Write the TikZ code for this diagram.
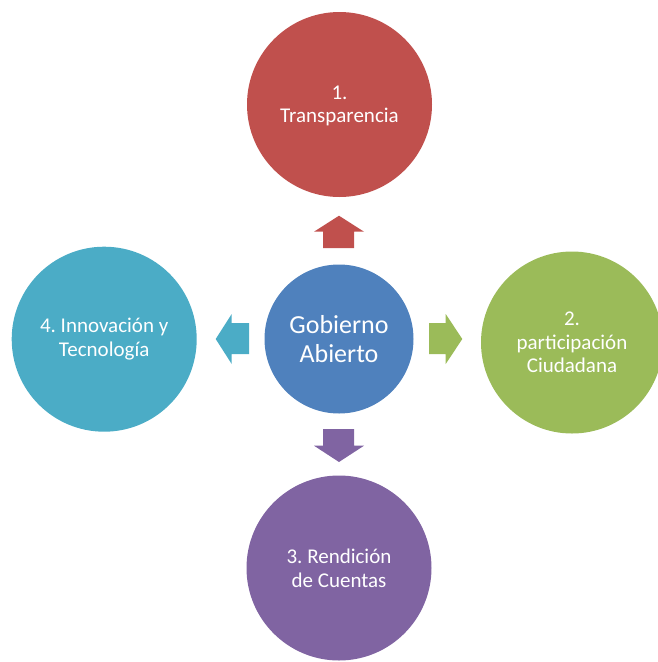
\documentclass[tikz,border=0pt]{standalone}
\usepackage{fontspec}
\setmainfont{Carlito}
\frenchspacing
\definecolor{cred}{HTML}{C0504D}
\definecolor{cgreen}{HTML}{9BBB59}
\definecolor{cpurple}{HTML}{8064A2}
\definecolor{cteal}{HTML}{4BACC6}
\definecolor{cblue}{HTML}{4F81BD}
\begin{document}
\begin{tikzpicture}[x=1pt,y=-1pt,
  outer/.style={circle,minimum size=185pt,inner sep=0pt,text=white,align=center,font=\frenchspacing\fontsize{21}{23.6}\selectfont},
  hub/.style={circle,minimum size=149pt,inner sep=0pt,text=white,align=center,font=\fontsize{26}{29}\selectfont,fill=cblue}]
\path[use as bounding box] (0,0) rectangle (657,662);
\node[hub] (c) at (339,339) {Gobierno\\Abierto};
\node[outer,fill=cred] (t) at (339.5,104.5) {\strut 1.\\Transparencia};
\node[outer,fill=cgreen,minimum size=182pt] (r) at (572,342.5) {2.\\participación\\Ciudadana};
\node[outer,fill=cpurple] (b) at (339,568) {3. Rendición\\de Cuentas};
\node[outer,fill=cteal] (l) at (104.2,339.2) {4. Innovación y\\Tecnología};
% arrows
\fill[cred] (339,215.7) -- (364,231.7) -- (354,231.7) -- (354,248) -- (323,248) -- (323,231.7) -- (314,231.7) -- cycle;
\fill[cpurple] (339,462) -- (364,445.7) -- (354,445.7) -- (354,429) -- (323,429) -- (323,445.7) -- (314,445.7) -- cycle;
\fill[cteal] (215.7,339) -- (231.7,314) -- (231.7,323) -- (249,323) -- (249,354) -- (231.7,354) -- (231.7,364) -- cycle;
\fill[cgreen] (462.3,339) -- (445.7,314) -- (445.7,323) -- (429,323) -- (429,354) -- (445.7,354) -- (445.7,364) -- cycle;
\end{tikzpicture}
\end{document}
